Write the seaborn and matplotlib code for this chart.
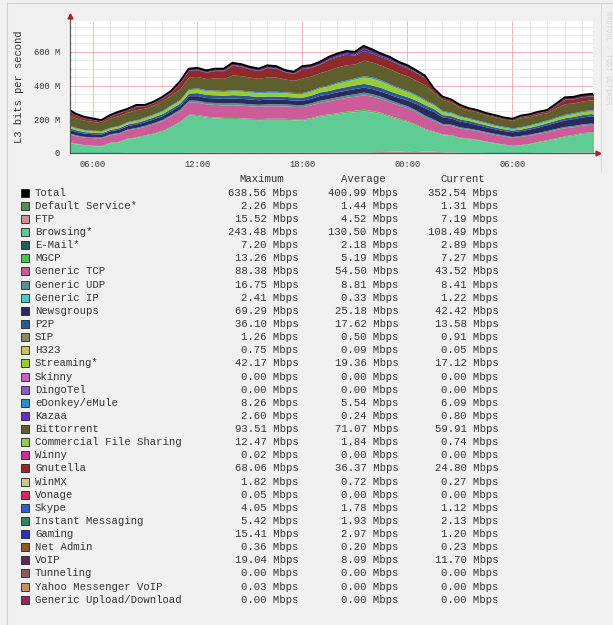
import pandas as pd
import matplotlib
matplotlib.use("Agg")
import matplotlib.pyplot as plt
import matplotlib.dates as mdates
from matplotlib.ticker import MultipleLocator, FuncFormatter
from matplotlib.patches import Rectangle
from matplotlib.lines import Line2D
import seaborn as sns

# sample times: 04:40, every 30 min from 05:00 to 10:30 next day, then 10:40
times = pd.DatetimeIndex(
    [pd.Timestamp("2009-06-01 04:40")]
    + list(pd.date_range("2009-06-01 05:00", "2009-06-02 10:30", freq="30min"))
    + [pd.Timestamp("2009-06-02 10:40")]
)

# traffic per class, Mbps
ftp = [3, 3, 3, 3, 3, 3, 3, 4, 4, 4, 4, 4, 4,
       4, 5, 5, 5, 5, 5, 5, 5, 5, 5, 5, 5, 5, 5,
       5, 5, 5, 5, 5, 6, 6, 7, 8, 9, 10, 12,
       14, 15, 12, 10, 8, 6, 5, 4, 4, 3, 3, 3,
       3, 3, 3, 4, 4, 5, 5, 6, 6, 7, 7.19]
browsing = [62, 52, 44, 40, 39, 57, 62, 81, 88, 100, 111, 126, 151,
            180, 220, 217, 207, 203, 200, 200, 198, 195, 193, 195, 195, 195, 192,
            190, 200, 213, 220, 227, 234, 239, 243, 235, 223, 205, 188,
            171, 150, 128, 115, 100, 99, 85, 81, 74, 65, 55, 47,
            40, 45, 52, 61, 71, 80, 92, 99, 109, 112, 108.49]
mgcp = [4, 4, 3, 3, 3, 3, 4, 4, 4, 4, 4, 5, 5,
        6, 6, 6, 6, 6, 6, 6, 6, 6, 6, 6, 6, 6, 6,
        6, 6, 7, 7, 8, 8, 9, 10, 9, 8, 8, 7,
        7, 6, 6, 5, 5, 4, 4, 4, 3, 3, 3, 3,
        3, 3, 3, 4, 4, 5, 5, 6, 6, 7, 7.27]
generic_tcp = [45, 44, 44, 45, 45, 46, 47, 48, 50, 50, 55, 58, 62,
               62, 72, 74, 73, 74, 74, 75, 75, 74, 73, 74, 74, 73, 73,
               74, 75, 76, 78, 80, 82, 83, 85, 84, 82, 80, 78,
               76, 73, 68, 62, 55, 54, 54, 52, 51, 50, 49, 48,
               47, 48, 48, 48, 48, 50, 48, 45, 44, 44, 43.52]
generic_udp = [6, 6, 5, 5, 5, 5, 6, 6, 6, 7, 7, 8, 8,
               10, 11, 11, 11, 12, 12, 12, 12, 12, 12, 12, 12, 12, 12,
               12, 12, 13, 13, 14, 14, 15, 16, 15, 14, 13, 12,
               12, 11, 10, 9, 8, 8, 7, 7, 6, 6, 6, 6,
               5, 6, 6, 6, 7, 7, 8, 8, 8, 8, 8.41]
newsgroups = [20, 20, 19, 18, 18, 18, 19, 20, 20, 21, 22, 22, 23,
              22, 26, 27, 27, 27, 27, 28, 28, 28, 27, 27, 27, 27, 26,
              26, 27, 28, 28, 29, 29, 30, 30, 30, 30, 31, 33,
              34, 38, 44, 45, 38, 36, 34, 32, 30, 28, 27, 26,
              28, 28, 30, 32, 34, 36, 38, 40, 41, 42, 42.42]
p2p = [10, 10, 9, 9, 8, 8, 9, 10, 10, 11, 12, 12, 13,
       13, 16, 18, 18, 18, 19, 20, 20, 20, 19, 19, 19, 18, 18,
       18, 19, 20, 20, 21, 21, 22, 22, 22, 22, 21, 20,
       20, 20, 19, 18, 14, 14, 13, 13, 12, 12, 11, 11,
       10, 10, 11, 11, 12, 12, 13, 13, 14, 14, 13.58]
streaming = [12, 10, 9, 8, 8, 9, 10, 10, 11, 12, 13, 14, 16,
             16, 20, 22, 22, 22, 22, 23, 23, 22, 22, 22, 22, 21, 21,
             22, 23, 25, 27, 30, 32, 35, 38, 40, 38, 35, 32,
             30, 27, 24, 21, 18, 16, 14, 12, 11, 10, 9, 9,
             8, 9, 10, 11, 12, 13, 15, 16, 17, 17, 17.12]
edonkey = [4, 4, 4, 4, 4, 4, 4, 4, 5, 5, 5, 5, 5,
           6, 6, 6, 6, 6, 6, 6, 6, 6, 6, 6, 6, 6, 6,
           6, 6, 6, 6, 7, 7, 7, 8, 8, 8, 7, 7,
           7, 7, 7, 6, 6, 6, 5, 5, 5, 5, 5, 5,
           5, 5, 5, 5, 5, 5, 6, 6, 6, 6, 6.09]
bittorrent = [60, 58, 55, 52, 47, 54, 58, 55, 60, 52, 52, 56, 58,
              62, 70, 68, 66, 72, 72, 88, 86, 82, 80, 86, 84, 76, 72,
              86, 84, 84, 88, 90, 90, 82, 92, 88, 86, 88, 86,
              86, 84, 86, 70, 66, 60, 52, 46, 48, 45, 47, 44,
              45, 52, 48, 48, 42, 55, 62, 58, 58, 58, 59.91]
gnutella = [22, 16, 13, 12, 10, 12, 16, 14, 19, 14, 14, 16, 17,
            36, 38, 40, 38, 44, 45, 58, 54, 48, 46, 55, 52, 42, 40,
            56, 51, 50, 62, 62, 63, 52, 58, 52, 50, 54, 50,
            48, 46, 43, 16, 12, 10, 9, 7, 8, 7, 7, 6,
            6, 8, 9, 10, 10, 16, 26, 24, 24, 23, 24.8]
gaming = [2, 2, 2, 1, 1, 1, 2, 1, 2, 1, 1, 2, 2,
          2, 3, 3, 3, 3, 3, 4, 4, 3, 3, 3, 3, 3, 3,
          4, 3, 4, 5, 5, 6, 7, 12, 10, 8, 6, 5,
          5, 4, 3, 2, 1, 1, 1, 0.5, 0.5, 0.5, 0.5, 0.5,
          0.5, 1, 1, 1, 1, 1, 2, 1, 1, 1, 1.2]
voip = [8, 6, 5, 5, 4, 5, 5, 5, 6, 4, 5, 5, 5,
        6, 7, 8, 8, 8, 9, 10, 10, 10, 9, 10, 10, 8, 8,
        10, 10, 10, 11, 12, 13, 13, 15, 13, 12, 12, 11,
        11, 10, 10, 6, 4, 4, 3, 2.5, 2.5, 2.5, 2.5, 2.5,
        2.5, 4, 4, 4, 5, 7, 10, 11, 11, 11, 11.7]

# legend table
names = ["Total", "Default Service*", "FTP", "Browsing*", "E-Mail*", "MGCP",
         "Generic TCP", "Generic UDP", "Generic IP", "Newsgroups", "P2P", "SIP",
         "H323", "Streaming*", "Skinny", "DingoTel", "eDonkey/eMule", "Kazaa",
         "Bittorrent", "Commercial File Sharing", "Winny", "Gnutella", "WinMX",
         "Vonage", "Skype", "Instant Messaging", "Gaming", "Net Admin", "VoIP",
         "Tunneling", "Yahoo Messenger VoIP", "Generic Upload/Download"]
colors = ["#000000", "#5a8a5a", "#cc9090", "#5fcc96", "#2a5a58", "#50c050",
          "#cc5c99", "#5a9090", "#50c8c8", "#2a2a60", "#2a5a90", "#8a8a58",
          "#c8c858", "#99cc33", "#cc5ccc", "#8a5acc", "#2a90c8", "#6030c8",
          "#5f5f2e", "#90c860", "#c83099", "#902a2a", "#c8c890", "#c8305a",
          "#3060c8", "#2a8a5a", "#2a30c0", "#8a5a2a", "#5a2a5a", "#905a5a",
          "#c89060", "#902a5a"]
maximum = [638.56, 2.26, 15.52, 243.48, 7.20, 13.26, 88.38, 16.75, 2.41, 69.29,
           36.10, 1.26, 0.75, 42.17, 0.00, 0.00, 8.26, 2.60, 93.51, 12.47, 0.02,
           68.06, 1.82, 0.05, 4.05, 5.42, 15.41, 0.36, 19.04, 0.00, 0.03, 0.00]
average = [400.99, 1.44, 4.52, 130.50, 2.18, 5.19, 54.50, 8.81, 0.33, 25.18,
           17.62, 0.50, 0.09, 19.36, 0.00, 0.00, 5.54, 0.24, 71.07, 1.84, 0.00,
           36.37, 0.72, 0.00, 1.78, 1.93, 2.97, 0.20, 8.09, 0.00, 0.00, 0.00]
current = [352.54, 1.31, 7.19, 108.49, 2.89, 7.27, 43.52, 8.41, 1.22, 42.42,
           13.58, 0.91, 0.05, 17.12, 0.00, 0.00, 6.09, 0.80, 59.91, 0.74, 0.00,
           24.80, 0.27, 0.00, 1.12, 2.13, 1.20, 0.23, 11.70, 0.00, 0.00, 0.00]

# visible classes, stacked in legend order
stacked = {
    "FTP": ftp, "Browsing*": browsing, "MGCP": mgcp, "Generic TCP": generic_tcp,
    "Generic UDP": generic_udp, "Newsgroups": newsgroups, "P2P": p2p,
    "Streaming*": streaming, "eDonkey/eMule": edonkey, "Bittorrent": bittorrent,
    "Gnutella": gnutella, "Gaming": gaming, "VoIP": voip,
}
df = pd.DataFrame(stacked, index=times)
df["Total"] = df.sum(axis=1)
color_of = dict(zip(names, colors))

W, H = 613, 625
sns.set_theme(style="white")
plt.rcParams["font.family"] = ["Liberation Mono", "DejaVu Sans Mono"]
TXT = "#333333"

fig = plt.figure(figsize=(W / 100, H / 100), dpi=100, facecolor="#f0f0f0")
ax = fig.add_axes([69.5 / W, 1 - 153 / H, (593 - 69.5) / W, (153 - 21) / H])
ax.set_facecolor("white")
ax.set_axisbelow(True)

x = mdates.date2num(df.index.to_pydatetime())
layers = list(stacked.keys())
ax.stackplot(x, [df[c].values for c in layers],
             colors=[color_of[c] for c in layers], linewidth=0, zorder=2)
sns.lineplot(x=x, y=df["Total"].values, ax=ax, color="black", linewidth=1.4,
             zorder=3)

ax.set_xlim(mdates.date2num(pd.Timestamp("2009-06-01 04:41")),
            mdates.date2num(pd.Timestamp("2009-06-02 10:37")))
ax.set_ylim(0, 783)

ax.xaxis.set_major_locator(mdates.HourLocator(byhour=[0, 6, 12, 18]))
ax.xaxis.set_minor_locator(mdates.HourLocator())
ax.xaxis.set_major_formatter(mdates.DateFormatter("%H:%M"))
ax.yaxis.set_major_locator(MultipleLocator(200))
ax.yaxis.set_minor_locator(MultipleLocator(50))
ax.yaxis.set_major_formatter(FuncFormatter(lambda v, p: "0" if v == 0 else f"{int(v)} M"))
ax.grid(which="minor", color="#e2e2e2", linewidth=0.6)
ax.grid(which="major", color="#f2a8a8", linewidth=0.6)

for s in ["top", "right"]:
    ax.spines[s].set_visible(False)
for s in ["left", "bottom"]:
    ax.spines[s].set_color("#555555")
    ax.spines[s].set_linewidth(0.8)
    ax.spines[s].set_zorder(4)
ax.tick_params(which="major", length=2, color="#555555", labelsize=6.3,
               labelcolor=TXT)
ax.tick_params(axis="x", pad=3)
ax.tick_params(axis="y", pad=5)
ax.tick_params(which="minor", length=0)

# axis extensions with red arrow heads
ax.add_line(Line2D([0, 0], [0, 1.03], transform=ax.transAxes, color="#555555",
                   lw=0.8, clip_on=False, zorder=4))
ax.add_line(Line2D([0, 1.009], [0, 0], transform=ax.transAxes, color="#555555",
                   lw=0.8, clip_on=False, zorder=4))
ax.plot([0], [1.035], marker="^", color="#b02020", markersize=3.5,
        transform=ax.transAxes, clip_on=False, zorder=5)
ax.plot([1.01], [0], marker=">", color="#b02020", markersize=3.5,
        transform=ax.transAxes, clip_on=False, zorder=5)

fig.text(19 / W, 1 - 87 / H, "L3 bits per second", rotation=90,
         ha="center", va="center", fontsize=7.6, color=TXT)
fig.text(607 / W, 1 - 58 / H, "RRDTOOL / TOBI OETIKER", rotation=270,
         ha="center", va="center", fontsize=5, color="#d4d4d4")

# page frame
fig.add_artist(Line2D([7 / W, 7 / W], [0, 1 - 2.5 / H], color="#cfcfcf", lw=0.8))
fig.add_artist(Line2D([7 / W, 1], [1 - 2.5 / H, 1 - 2.5 / H], color="#cfcfcf", lw=0.8))
fig.add_artist(Line2D([600.5 / W, 600.5 / W], [1 - 172 / H, 1 - 2.5 / H],
                      color="#dcdcdc", lw=0.8))

# legend table
fs = 7.7
for label, cx in [("Maximum", 262), ("Average", 363), ("Current", 463)]:
    fig.text(cx / W, 1 - 179.5 / H, label, ha="center", va="center",
             fontsize=fs, color=TXT)

row0, step = 192.7, 13.13
for i, name in enumerate(names):
    yc = row0 + i * step
    fig.add_artist(Rectangle((21 / W, 1 - (yc + 4) / H), 8 / W, 8 / H,
                             transform=fig.transFigure, facecolor=colors[i],
                             edgecolor="#222222", linewidth=0.6))
    fig.text(35 / W, 1 - yc / H, name, ha="left", va="center", fontsize=fs, color=TXT)
    for vals, rx in [(maximum, 298.5), (average, 398.5), (current, 498.5)]:
        fig.text(rx / W, 1 - yc / H, f"{vals[i]:.2f} Mbps", ha="right",
                 va="center", fontsize=fs, color=TXT)

fig.savefig("out.png", dpi=100, facecolor=fig.get_facecolor())
